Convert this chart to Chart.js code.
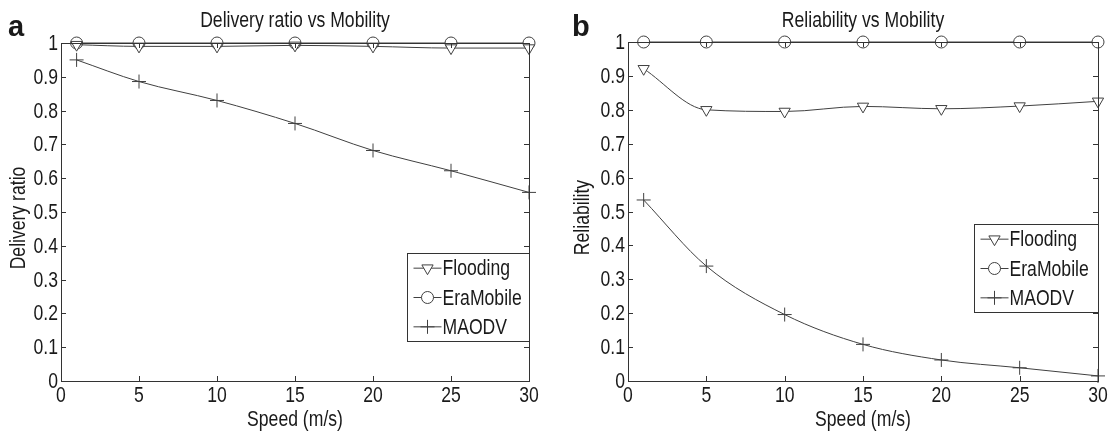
<!DOCTYPE html>
<html>
<head>
<meta charset="utf-8">
<script src="https://cdn.jsdelivr.net/npm/chart.js@4.4.1/dist/chart.umd.min.js"></script>
<style>
  html, body { margin:0; padding:0; background:#fff; }
  #wrap { position:relative; width:1114px; height:433px; overflow:hidden; }
  canvas { position:absolute; top:0; }
</style>
</head>
<body>
<div id="wrap">
  <canvas id="chart-a" width="557" height="433" style="left:0"></canvas>
  <canvas id="chart-b" width="557" height="433" style="left:557px"></canvas>
</div>
<script>
// ---- data ----
const speeds = [1, 5, 10, 15, 20, 25, 30];
const seriesNames = ['Flooding', 'EraMobile', 'MAODV'];

// (a) delivery ratio
const deliveryFlooding  = [0.995, 0.99, 0.99, 0.993, 0.99, 0.985, 0.985];
const deliveryEraMobile = [1, 1, 1, 1, 1, 1, 1];
const deliveryMAODV     = [0.95, 0.886, 0.83, 0.762, 0.682, 0.622, 0.558];

// (b) reliability
const reliabilityFlooding  = [0.921, 0.80, 0.795, 0.81, 0.803, 0.811, 0.825];
const reliabilityEraMobile = [1, 1, 1, 1, 1, 1, 1];
const reliabilityMAODV     = [0.534, 0.339, 0.196, 0.108, 0.062, 0.039, 0.015];

const xTicks = [0, 5, 10, 15, 20, 25, 30];
const xTickLabels = ['0', '5', '10', '15', '20', '25', '30'];
const yTicks = [0, 0.1, 0.2, 0.3, 0.4, 0.5, 0.6, 0.7, 0.8, 0.9, 1];
const yTickLabels = ['0', '0.1', '0.2', '0.3', '0.4', '0.5', '0.6', '0.7', '0.8', '0.9', '1'];

const FONT = 'Arial, "Liberation Sans", sans-serif';
const FS = 22;          // the figure's text is tall and narrow
const SQUEEZE = 0.8;    // horizontal squeeze for that look

const LINE = '#404040';
const INK  = '#1a1a1a';

const markers = [
  { pointStyle:'triangle', radius:6.5, rotation:180 },
  { pointStyle:'circle',   radius:6,   rotation:0 },
  { pointStyle:'cross',    radius:7,   rotation:0 },
];

// narrow text helper: real fillText, squeezed horizontally
function narrowText(ctx, str, x, y, align, baseline, rotate) {
  ctx.save();
  ctx.translate(x, y);
  if (rotate) ctx.rotate(rotate);
  ctx.scale(SQUEEZE, 1);
  ctx.font = FS + 'px ' + FONT;
  ctx.fillStyle = INK;
  ctx.textAlign = align;
  ctx.textBaseline = baseline;
  ctx.fillText(str, 0, 0);
  ctx.restore();
}

// MATLAB style frame: full box with inward ticks, tick labels and axis titles
const frameBox = {
  id: 'frameBox',
  afterDatasetsDraw(chart, args, opts) {
    const { ctx, chartArea: a, scales: { x, y } } = chart;
    ctx.save();
    ctx.strokeStyle = '#333';
    ctx.lineWidth = 1;
    ctx.strokeRect(Math.round(a.left) + 0.5, Math.round(a.top) + 0.5,
                   Math.round(a.right - a.left), Math.round(a.bottom - a.top));
    ctx.beginPath();
    const t = 5;
    xTicks.forEach(v => {
      const px = Math.round(x.getPixelForValue(v)) + 0.5;
      ctx.moveTo(px, a.bottom); ctx.lineTo(px, a.bottom - t);
      ctx.moveTo(px, a.top);    ctx.lineTo(px, a.top + t);
    });
    yTicks.forEach(v => {
      const py = Math.round(y.getPixelForValue(v)) + 0.5;
      ctx.moveTo(a.left, py);  ctx.lineTo(a.left + t, py);
      ctx.moveTo(a.right, py); ctx.lineTo(a.right - t, py);
    });
    ctx.stroke();
    ctx.restore();

    xTicks.forEach((v, i) => narrowText(ctx, xTickLabels[i], x.getPixelForValue(v), a.bottom + 21, 'center', 'alphabetic'));
    yTicks.forEach((v, i) => narrowText(ctx, yTickLabels[i], a.left - 3, y.getPixelForValue(v) + 1, 'right', 'middle'));
    narrowText(ctx, opts.xTitle, (a.left + a.right) / 2, a.bottom + 45, 'center', 'alphabetic');
    narrowText(ctx, opts.yTitle, opts.yTitleX, (a.top + a.bottom) / 2 + 6, 'center', 'middle', -Math.PI / 2);
  }
};

// title + panel letter
const panelText = {
  id: 'panelText',
  afterDraw(chart, args, opts) {
    const { ctx, chartArea: a } = chart;
    narrowText(ctx, opts.title, (a.left + a.right) / 2, opts.titleY, 'center', 'alphabetic');
    ctx.save();
    ctx.fillStyle = INK;
    ctx.font = 'bold 29px ' + FONT;
    ctx.textAlign = 'left';
    ctx.textBaseline = 'alphabetic';
    ctx.fillText(opts.letter, opts.letterX, opts.letterY);
    ctx.restore();
  }
};

// legend box inside the axes, right aligned
const boxLegend = {
  id: 'boxLegend',
  afterDraw(chart, args, opts) {
    const { ctx, chartArea: a, scales: { x, y } } = chart;
    const left = Math.round(x.getPixelForValue(opts.fromX)) + 0.5;
    const top = Math.round(y.getPixelForValue(opts.topY)) + 0.5;
    const bottom = Math.round(y.getPixelForValue(opts.bottomY)) + 0.5;
    const right = Math.round(a.right) + 0.5;
    ctx.save();
    ctx.fillStyle = '#fff';
    ctx.fillRect(left, top, right - left, bottom - top);
    ctx.strokeStyle = '#333';
    ctx.lineWidth = 1;
    ctx.strokeRect(left, top, right - left, bottom - top);
    const rowH = (bottom - top) / chart.data.datasets.length;
    chart.data.datasets.forEach((ds, i) => {
      const cy = top + rowH * (i + 0.5);
      ctx.strokeStyle = LINE;
      ctx.beginPath();
      ctx.moveTo(left + 6, cy); ctx.lineTo(left + 34, cy);
      ctx.stroke();
      ctx.fillStyle = '#fff';
      ctx.strokeStyle = LINE;
      Chart.helpers.drawPoint(ctx, {
        pointStyle: ds.pointStyle, radius: ds.pointRadius,
        rotation: ds.pointRotation, borderWidth: 1
      }, left + 20, cy);
      narrowText(ctx, ds.label, left + 35, cy + 1, 'left', 'middle');
    });
    ctx.restore();
  }
};

function makeDatasets(values, tensions) {
  return values.map((vals, i) => ({
    label: seriesNames[i],
    data: speeds.map((s, j) => ({ x: s, y: vals[j] })),
    borderColor: LINE,
    borderWidth: 1,
    backgroundColor: '#fff',
    pointStyle: markers[i].pointStyle,
    pointRadius: markers[i].radius,
    pointRotation: markers[i].rotation,
    pointBorderColor: LINE,
    pointBackgroundColor: '#fff',
    pointBorderWidth: 1,
    tension: tensions[i],
    cubicInterpolationMode: 'monotone',
    clip: false,
  }));
}

function makeChart(id, cfg) {
  return new Chart(document.getElementById(id), {
    type: 'line',
    data: { datasets: makeDatasets(cfg.values, cfg.tensions) },
    plugins: [frameBox, panelText, boxLegend],
    options: {
      responsive: false,
      animation: false,
      devicePixelRatio: 1,
      layout: { padding: { left: cfg.padLeft, right: cfg.padRight, top: cfg.padTop, bottom: 0 } },
      plugins: {
        legend: { display: false },
        tooltip: { enabled: false },
        frameBox: { xTitle: 'Speed (m/s)', yTitle: cfg.yTitle, yTitleX: cfg.yTitleX },
        panelText: { title: cfg.title, titleY: 27, letter: cfg.letter, letterX: cfg.letterX, letterY: 36 },
        boxLegend: cfg.legend,
      },
      scales: {
        x: {
          type: 'linear', min: 0, max: 30,
          afterBuildTicks: s => { s.ticks = xTicks.map(v => ({ value: v })); },
          afterFit: s => { s.height = 433 - cfg.bottomY; },
          grid: { display: false },
          border: { display: false },
          ticks: { display: false },
        },
        y: {
          min: 0, max: 1,
          afterBuildTicks: s => { s.ticks = yTicks.map(v => ({ value: v })); },
          afterFit: s => { s.width = cfg.yWidth; },
          grid: { display: false },
          border: { display: false },
          ticks: { display: false },
        }
      }
    }
  });
}

makeChart('chart-a', {
  values: [deliveryFlooding, deliveryEraMobile, deliveryMAODV],
  tensions: [0, 0, 0],
  title: 'Delivery ratio vs Mobility', yTitle: 'Delivery ratio', yTitleX: 19,
  letter: 'a', letterX: 8,
  padLeft: 0, padRight: 28, padTop: 43, yWidth: 61, bottomY: 381,
  legend: { fromX: 22.2, topY: 0.38, bottomY: 0.118 },
});

makeChart('chart-b', {
  values: [reliabilityFlooding, reliabilityEraMobile, reliabilityMAODV],
  tensions: [0, 0, 0.3],
  title: 'Reliability vs Mobility', yTitle: 'Reliability', yTitleX: 26,
  letter: 'b', letterX: 15,
  padLeft: 10, padRight: 16, padTop: 42, yWidth: 61, bottomY: 381,
  legend: { fromX: 22.1, topY: 0.464, bottomY: 0.205 },
});
</script>
</body>
</html>
